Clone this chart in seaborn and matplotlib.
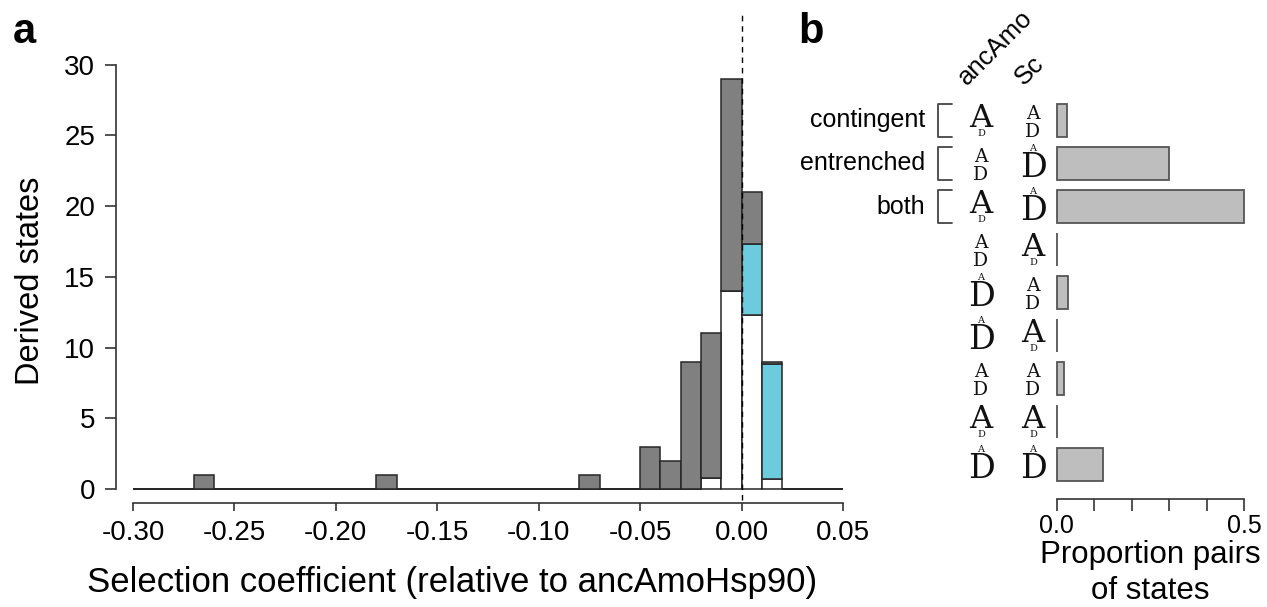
import numpy as np
import pandas as pd
import matplotlib
matplotlib.use("Agg")
import matplotlib.pyplot as plt
import matplotlib.transforms as mtransforms
import seaborn as sns

# ---------------- data ----------------
# panel a: histogram of selection coefficients (bin width 0.01)
bin_centers = [-0.265, -0.175, -0.075, -0.045, -0.035, -0.025, -0.015, -0.005, 0.005, 0.015]
white_counts = [0, 0, 0, 0, 0, 0, 0.8, 14.0, 12.3, 0.7]
cyan_counts = [0, 0, 0, 0, 0, 0, 0.0, 0.0, 5.0, 8.1]
gray_counts = [1, 1, 1, 3, 2, 9, 10.2, 15.0, 3.7, 0.2]
n_bins = 35
bin_range = (-0.30, 0.05)
x_ticks = [-0.30, -0.25, -0.20, -0.15, -0.10, -0.05, 0.00, 0.05]
x_ticklabels = ["-0.30", "-0.25", "-0.20", "-0.15", "-0.10", "-0.05", "0.00", "0.05"]
y_ticks = [0, 5, 10, 15, 20, 25, 30]

# panel b: proportion of pairs of states
row_ids = ["r1", "r2", "r3", "r4", "r5", "r6", "r7", "r8", "r9"]
row_labels = ["contingent", "entrenched", "both", "", "", "", "", "", ""]
proportions = [0.027, 0.30, 0.50, 0.0, 0.031, 0.0, 0.02, 0.0, 0.123]
anc_states = ["A", "AD", "A", "AD", "D", "D", "AD", "A", "D"]
sc_states = ["AD", "D", "D", "A", "AD", "A", "AD", "A", "D"]
b_ticks = [0.0, 0.1, 0.2, 0.3, 0.4, 0.5]
b_ticklabels = ["0.0", "", "", "", "", "0.5"]

# ---------------- style ----------------
sns.set_theme(style="white")
plt.rcParams["font.family"] = ["Liberation Sans", "DejaVu Sans"]
plt.rcParams.update({
    "axes.linewidth": 1.2,
    "text.color": "black",
    "axes.labelcolor": "black",
    "xtick.color": "black",
    "ytick.color": "black",
})

W, H = 1267, 607
fig = plt.figure(figsize=(W / 100, H / 100), dpi=100)

def fx(px):
    return px / W

def fy(py):
    return 1 - py / H

# ---------------- panel a ----------------
ax = fig.add_axes([fx(133), fy(489), fx(843) - fx(133), fy(15) - fy(489)])

groups = ["gray", "cyan", "white"]
rows = []
for g, vals in zip(groups, [gray_counts, cyan_counts, white_counts]):
    for c, v in zip(bin_centers, vals):
        rows.append({"coef": c, "count": v, "group": g})
hist_df = pd.DataFrame(rows)
palette = {"gray": "#808080", "cyan": "#6ccbdd", "white": "#ffffff"}
sns.histplot(data=hist_df, x="coef", weights="count", hue="group",
             hue_order=groups, palette=palette, multiple="stack",
             bins=n_bins, binrange=bin_range, alpha=1, edgecolor="#262626",
             linewidth=1.1, legend=False, ax=ax)
for p in ax.patches:
    p.set_clip_on(False)

ax.set_xlim(-0.30, 0.05)
ax.set_ylim(0, 33.5)
ax.plot([0, 0], [-0.75, 33.5], color="black", lw=1.0, ls=(0, (4, 3.5)),
        clip_on=False, zorder=5)

ax.spines["top"].set_visible(False)
ax.spines["right"].set_visible(False)
ax.spines["left"].set_position(("outward", 12))
ax.spines["bottom"].set_position(("outward", 10))
ax.spines["left"].set_bounds(0, 30)
ax.spines["bottom"].set_bounds(-0.30, 0.05)
for s in ax.spines.values():
    s.set_color("#333333")
ax.set_xticks(x_ticks)
ax.set_xticklabels(x_ticklabels)
ax.set_yticks(y_ticks)
ax.tick_params(axis="x", length=5.8, width=1.2, direction="out", color="#333333",
               labelsize=20, pad=6.3, bottom=True)
ax.tick_params(axis="y", length=7.9, width=1.2, direction="out", color="#333333",
               labelsize=20, pad=7.2, left=True)
ax.set_xlabel("Selection coefficient (relative to ancAmoHsp90)", fontsize=25)
ax.xaxis.set_label_coords((452 - 133) / 710, (489 - 566) / 474)
ax.set_ylabel("Derived states", fontsize=23.5)
ax.yaxis.label.set_va("center")
ax.yaxis.set_label_coords((30 - 133) / 710, (489 - 281) / 474)

fig.text(fx(13), fy(43), "a", fontsize=30, fontweight="bold", ha="left", va="baseline")
fig.text(fx(798), fy(43), "b", fontsize=30, fontweight="bold", ha="left", va="baseline")

# ---------------- panel b ----------------
bx = fig.add_axes([fx(1056.7), fy(486), fx(1244.3) - fx(1056.7), fy(99) - fy(486)])
bar_df = pd.DataFrame({"row": row_ids, "prop": proportions})
sns.barplot(data=bar_df, x="prop", y="row", order=row_ids, orient="h",
            color="#bebebe", edgecolor="#555555", linewidth=1.3, width=0.77,
            saturation=1, ax=bx)
for p in bx.patches:
    p.set_clip_on(False)
bx.set_xlim(0, 0.5)
bx.set_ylim(8.5, -0.5)
bx.set_ylabel("")
bx.set_yticks([])
bx.spines["top"].set_visible(False)
bx.spines["right"].set_visible(False)
bx.spines["left"].set_visible(False)
bx.spines["bottom"].set_position(("outward", 9))
bx.spines["bottom"].set_bounds(0, 0.5)
bx.spines["bottom"].set_color("#333333")
bx.set_xticks(b_ticks)
bx.set_xticklabels(b_ticklabels)
bx.tick_params(axis="x", length=8.4, width=1.2, direction="out", color="#333333",
               labelsize=18, pad=2.8, bottom=True)
bx.set_xlabel("Proportion pairs\nof states", fontsize=22.5, linespacing=1.25)
bx.xaxis.set_label_coords((1150 - 1056.7) / 187.6, (486 - 540) / 387)

trans = mtransforms.blended_transform_factory(bx.transAxes, bx.transData)
axw = 1244.3 - 1056.7

def xa(px):
    return (px - 1056.7) / axw

glyph_font = "DejaVu Serif"

def draw_glyph(xpx, row, kind):
    kw = dict(transform=trans, ha="center", family=glyph_font,
              color="#111111", clip_on=False)
    x = xa(xpx)
    if kind == "A":
        bx.text(x, row + 0.15, "A", fontsize=23, va="baseline", **kw)
        bx.text(x, row + 0.37, "D", fontsize=7, va="baseline", **kw)
    elif kind == "D":
        bx.text(x, row - 0.30, "A", fontsize=7, va="baseline", **kw)
        bx.text(x, row + 0.32, "D", fontsize=24, va="baseline", **kw)
    else:
        bx.text(x, row + 0.06, "A\nD", fontsize=13.5, va="center",
                linespacing=0.95, multialignment="center", **kw)

for i, (a_s, s_s) in enumerate(zip(anc_states, sc_states)):
    draw_glyph(981, i, a_s)
    draw_glyph(1033, i, s_s)

for i, lab in enumerate(row_labels):
    if lab:
        bx.text(xa(925), i, lab, transform=trans, ha="right", va="center",
                fontsize=18, clip_on=False)
        bx.plot([xa(952), xa(937.5), xa(937.5), xa(952)],
                [i - 0.39, i - 0.39, i + 0.39, i + 0.39],
                transform=trans, color="#444444", lw=1.3, clip_on=False)

fig.text(fx(967), fy(86), "ancAmo", rotation=45, fontsize=18.5, ha="left", va="baseline",
         rotation_mode="anchor")
fig.text(fx(1024), fy(86), "Sc", rotation=45, fontsize=18.5, ha="left", va="baseline",
         rotation_mode="anchor")

fig.savefig("out.png", dpi=100)
